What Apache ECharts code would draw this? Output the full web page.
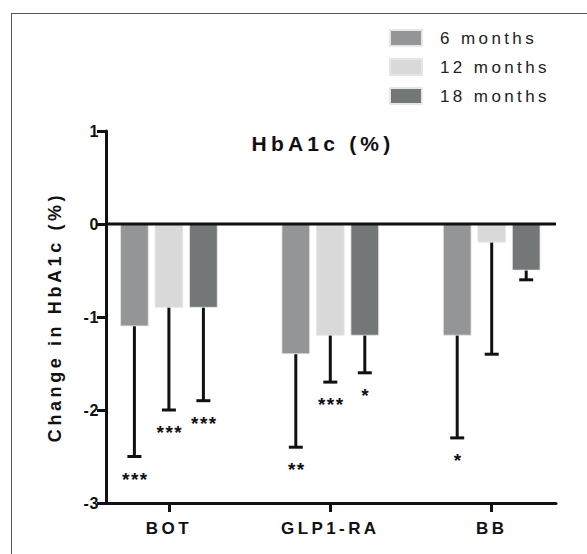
<!DOCTYPE html>
<html>
<head>
<meta charset="utf-8">
<script src="https://cdn.jsdelivr.net/npm/echarts@6/dist/echarts.min.js"></script>
<style>
  html, body { margin: 0; padding: 0; background: #fff; }
  #wrap { position: relative; width: 587px; height: 554px; overflow: hidden; }
  #frame { position: absolute; left: 11px; top: 13px; right: -5px; bottom: -5px;
           border-top: 1px solid #555; border-left: 1px solid #555; pointer-events: none; }
  #chart { position: absolute; left: 0; top: 0; width: 587px; height: 554px; }
  #chart svg text { letter-spacing: 0.2em; }
  #chart svg text[style*="19px"], #chart svg text[font-size="19"], #chart svg text[font-size="19px"] { letter-spacing: 0.08em; }
  #chart svg text[style*="16px"], #chart svg text[font-size="16"], #chart svg text[font-size="16px"] { letter-spacing: 0.04em; }
</style>
</head>
<body>
<div id="wrap">
  <div id="chart"></div>
  <div id="frame"></div>
</div>
<script>
// ---- data ----
var categories = ['BOT', 'GLP1-RA', 'BB'];
var seriesNames = ['6 months', '12 months', '18 months'];
var mean6  = [-1.1, -1.4, -1.2];
var mean12 = [-0.9, -1.2, -0.2];
var mean18 = [-0.9, -1.2, -0.5];
var low6   = [-2.5, -2.4, -2.3];
var low12  = [-2.0, -1.7, -1.4];
var low18  = [-1.9, -1.6, -0.6];
var stars6  = ['***', '**', '*'];
var stars12 = ['***', '***', ''];
var stars18 = ['***', '*', ''];
var yTicks = [-3, -2, -1, 0, 1];

// ---- styling ----
var FONT = 'Arial, "Liberation Sans", sans-serif';
var colors = ['#949596', '#d8d9d8', '#747777'];
var BAR_W = 28.5, BAR_GAP = 6;
var means = [mean6, mean12, mean18];
var lows = [low6, low12, low18];
var stars = [stars6, stars12, stars18];

var series = [];
seriesNames.forEach(function (name, i) {
  series.push({
    name: name, type: 'bar', xAxisIndex: 1, yAxisIndex: 1,
    data: means[i], barWidth: BAR_W, barGap: (BAR_GAP / BAR_W * 100) + '%',
    itemStyle: { color: colors[i], borderColor: '#e6e6e6', borderWidth: 0.8 },
    z: 2, silent: true
  });
});
seriesNames.forEach(function (name, i) {
  var offset = (i - 1) * (BAR_W + BAR_GAP);
  var data = categories.map(function (c, k) { return [k, means[i][k], lows[i][k]]; });
  series.push({
    name: name + ' err', type: 'custom', xAxisIndex: 1, yAxisIndex: 1, z: 3, silent: true,
    data: data,
    renderItem: function (params, api) {
      var k = api.value(0);
      var top = api.coord([k, api.value(1)]);
      var bot = api.coord([k, api.value(2)]);
      var x = top[0] + offset;
      var children = [
        { type: 'line', shape: { x1: x, y1: top[1], x2: x, y2: bot[1] }, style: { stroke: '#111', lineWidth: 3 } },
        { type: 'line', shape: { x1: x - 7, y1: bot[1], x2: x + 7, y2: bot[1] }, style: { stroke: '#111', lineWidth: 3 } }
      ];
      var s = stars[i][k];
      if (s) {
        children.push({ type: 'text', x: x + 1, y: bot[1] + 13,
          style: { text: s, fill: '#111', font: 'bold 19px ' + FONT, textAlign: 'center', textVerticalAlign: 'top', align: 'center', verticalAlign: 'top' } });
      }
      return { type: 'group', children: children };
    }
  });
});
// zero line across grid 0
series.push({
  type: 'line', xAxisIndex: 0, yAxisIndex: 0, data: [[0, 0], [1, 0]],
  symbol: 'none', lineStyle: { color: '#111', width: 3 }, z: 5, silent: true
});

var chart = echarts.init(document.getElementById('chart'), null, { renderer: 'svg' });
chart.setOption({
  animation: false,
  backgroundColor: 'transparent',
  title: {
    text: 'HbA1c (%)', left: 323, top: 133, textAlign: 'center', padding: 0,
    textStyle: { fontFamily: FONT, fontSize: 21, fontWeight: 'bold', color: '#111' }
  },
  legend: {
    data: seriesNames, orient: 'vertical', left: 389, top: 29, padding: 0,
    itemWidth: 32, itemHeight: 16, itemGap: 11, icon: 'rect',
    textStyle: { fontFamily: FONT, fontSize: 17, color: '#222', padding: [0, 0, 0, 13] },
    selectedMode: false
  },
  grid: [
    { left: 106, right: 31, top: 131, bottom: 51, outerBoundsMode: 'none', containLabel: false },
    { left: 88.2, right: 14.6, top: 131, bottom: 51, outerBoundsMode: 'none', containLabel: false }
  ],
  xAxis: [
    { type: 'value', gridIndex: 0, min: 0, max: 1, position: 'bottom',
      axisLine: { show: true, onZero: false, lineStyle: { color: '#111', width: 3 } },
      axisTick: { show: false }, axisLabel: { show: false }, splitLine: { show: false } },
    { type: 'category', gridIndex: 1, data: categories, position: 'bottom',
      axisLine: { show: false, onZero: false },
      axisTick: { show: true, alignWithLabel: true, length: 9, lineStyle: { color: '#111', width: 3 } },
      axisLabel: { fontFamily: FONT, fontSize: 17, fontWeight: 'bold', color: '#111', margin: 17 },
      splitLine: { show: false } }
  ],
  yAxis: [
    { type: 'value', gridIndex: 0, min: yTicks[0], max: yTicks[yTicks.length - 1], interval: 1,
      name: 'Change in HbA1c (%)', nameLocation: 'middle', nameGap: 42, nameRotate: 90,
      nameTextStyle: { fontFamily: FONT, fontSize: 18, fontWeight: 'bold', color: '#111' },
      axisLine: { show: true, onZero: false, lineStyle: { color: '#111', width: 3 } },
      axisTick: { show: true, length: 9, lineStyle: { color: '#111', width: 3 } },
      axisLabel: { fontFamily: FONT, fontSize: 16, fontWeight: 'bold', color: '#111', margin: 7 },
      splitLine: { show: false } },
    { type: 'value', gridIndex: 1, min: yTicks[0], max: yTicks[yTicks.length - 1], interval: 1, show: false,
      splitLine: { show: false } }
  ],
  series: series
});
</script>
</body>
</html>
